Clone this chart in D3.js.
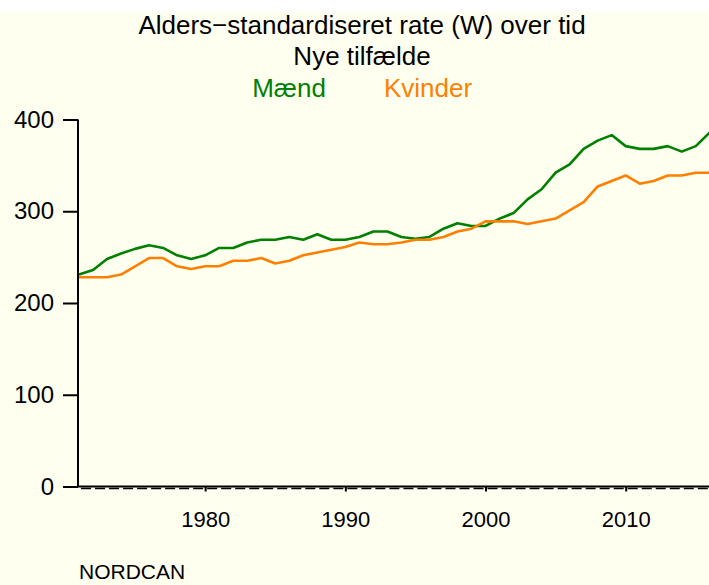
<!DOCTYPE html>
<html><head><meta charset="utf-8">
<script src="https://cdn.jsdelivr.net/npm/d3@7"></script>
<style>
html,body{margin:0;padding:0;background:#fffff0;overflow:hidden;}
svg{display:block;}
text{font-family:"Liberation Sans",Arial,Helvetica,sans-serif;}
</style></head>
<body>
<script>
const years = d3.range(1971, 2017);
const maend = [231,236,248,254,259,263,260,252,248,252,260,260,266,269,269,272,269,275,269,269,272,278,278,272,270,272,281,287,284,284,292,298,313,324,342,351,368,377,383,371,368,368,371,365,371,386];
const kvinder = [228,228,228,231,240,249,249,240,237,240,240,246,246,249,243,246,252,255,258,261,266,264,264,266,269,269,272,278,281,289,289,289,286,289,292,301,310,327,333,339,330,333,339,339,342,342];
const yTicks = [0,100,200,300,400];
const xTicks = [1980,1990,2000,2010];
const titleLines = ["Alders\u2212standardiseret rate (W) over tid", "Nye tilfælde"];
const legendLabels = ["Mænd", "Kvinder"];
const colors = ["#008000", "#ff7f00"];
const source = "NORDCAN";

const W = 709, H = 585;
const svg = d3.select("body").append("svg").attr("width", W).attr("height", H);
svg.append("rect").attr("width", W).attr("height", H).attr("fill", "#fffff0");
svg.append("rect").attr("width", W).attr("height", 12).attr("fill", "#ffffff");

const x = d3.scaleLinear().domain([1971, 2016]).range([79, 709.8]);
const y = d3.scaleLinear().domain([0, 400]).range([486.5, 119.5]);
const fsTitle = 26, fsY = 24, fsX = 22, fsSrc = 21;

// titles
svg.append("text").attr("x", 362).attr("y", 34).attr("text-anchor", "middle").attr("font-size", fsTitle).text(titleLines[0]);
svg.append("text").attr("x", 362).attr("y", 65).attr("text-anchor", "middle").attr("font-size", fsTitle).text(titleLines[1]);
svg.append("text").attr("x", 289).attr("y", 97).attr("text-anchor", "middle").attr("font-size", fsTitle).attr("fill", colors[0]).text(legendLabels[0]);
svg.append("text").attr("x", 428).attr("y", 97).attr("text-anchor", "middle").attr("font-size", fsTitle).attr("fill", colors[1]).text(legendLabels[1]);

// y axis
const ya = svg.append("g").attr("transform", "translate(78,0)")
  .call(d3.axisLeft(y).tickValues(yTicks).tickSize(15).tickPadding(9).tickFormat(d3.format("d")));
ya.select(".domain").attr("stroke-width", 2).attr("d", `M0,${y(400)}V${y(0)}`);
ya.selectAll(".tick line").attr("stroke-width", 2);
ya.selectAll("text").attr("font-size", fsY).attr("font-family", "Liberation Sans, Arial, sans-serif").attr("fill", "#000");

// x axis
const xa = svg.append("g").attr("transform", `translate(0,${y(0)})`)
  .call(d3.axisBottom(x).tickValues(xTicks).tickSize(5).tickPadding(20).tickFormat(d3.format("d")));
xa.select(".domain").attr("stroke-width", 2).attr("d", `M78,0H${W}`);
xa.selectAll(".tick line").attr("stroke-width", 2);
xa.selectAll("text").attr("font-size", fsX).attr("font-family", "Liberation Sans, Arial, sans-serif").attr("fill", "#000");
// minor yearly ticks
xa.append("g").selectAll("line").data(years.slice(0, -1)).join("line")
  .attr("x1", d => x(d) + 2).attr("x2", d => x(d + 1) - 2)
  .attr("y1", 2).attr("y2", 2).attr("stroke", "#000").attr("stroke-width", 1.5);

// lines
const line = d3.line().x((d, i) => x(years[i])).y(d => y(d));
[maend, kvinder].forEach((s, k) => {
  svg.append("path").datum(s).attr("d", line).attr("fill", "none")
    .attr("stroke", colors[k]).attr("stroke-width", 2.6).attr("stroke-linejoin", "round");
});

svg.append("text").attr("x", 79).attr("y", 579).attr("font-size", fsSrc).text(source);
</script>
</body></html>
